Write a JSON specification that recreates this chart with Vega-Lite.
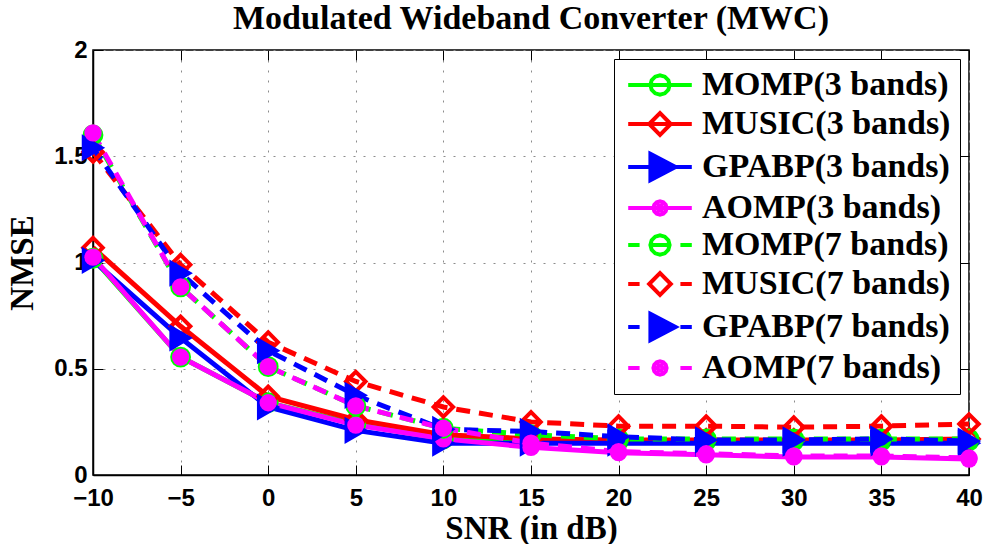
{
  "$schema": "https://vega.github.io/schema/vega-lite/v6.json",
  "width": 876,
  "height": 425,
  "autosize": {"type": "none"},
  "padding": {"left": 93, "top": 50, "right": 18, "bottom": 69},
  "background": "white",
  "title": {
    "text": "Modulated Wideband Converter (MWC)",
    "font": "Liberation Serif",
    "fontSize": 34,
    "fontWeight": "bold",
    "color": "black",
    "anchor": "middle",
    "offset": 2
  },
  "config": {
    "view": {"stroke": "black", "strokeWidth": 1.5},
    "axis": {
      "labelFont": "Liberation Sans",
      "labelFontWeight": "bold",
      "labelFontSize": 24,
      "labelColor": "black",
      "labelFlush": false,
      "tickColor": "black",
      "tickWidth": 1,
      "tickSize": -10,
      "domainColor": "black",
      "domainWidth": 1.5,
      "gridColor": "#8c8c8c",
      "gridDash": [2, 8],
      "gridWidth": 1,
      "titleFont": "Liberation Serif",
      "titleFontWeight": "bold",
      "titleFontSize": 33,
      "titleColor": "black"
    },
    "legend": {
      "symbolOpacity": 1
    }
  },
  "datasets": {
    "nmse": [
      {"snr": -10, "nmse": 1.02, "method": "MOMP", "band": 3, "series": "MOMP(3 bands)"},
      {"snr": -5, "nmse": 0.555, "method": "MOMP", "band": 3, "series": "MOMP(3 bands)"},
      {"snr": 0, "nmse": 0.34, "method": "MOMP", "band": 3, "series": "MOMP(3 bands)"},
      {"snr": 5, "nmse": 0.24, "method": "MOMP", "band": 3, "series": "MOMP(3 bands)"},
      {"snr": 10, "nmse": 0.17, "method": "MOMP", "band": 3, "series": "MOMP(3 bands)"},
      {"snr": 15, "nmse": 0.17, "method": "MOMP", "band": 3, "series": "MOMP(3 bands)"},
      {"snr": 20, "nmse": 0.16, "method": "MOMP", "band": 3, "series": "MOMP(3 bands)"},
      {"snr": 25, "nmse": 0.16, "method": "MOMP", "band": 3, "series": "MOMP(3 bands)"},
      {"snr": 30, "nmse": 0.16, "method": "MOMP", "band": 3, "series": "MOMP(3 bands)"},
      {"snr": 35, "nmse": 0.16, "method": "MOMP", "band": 3, "series": "MOMP(3 bands)"},
      {"snr": 40, "nmse": 0.16, "method": "MOMP", "band": 3, "series": "MOMP(3 bands)"},

      {"snr": -10, "nmse": 1.07, "method": "MUSIC", "band": 3, "series": "MUSIC(3 bands)"},
      {"snr": -5, "nmse": 0.70, "method": "MUSIC", "band": 3, "series": "MUSIC(3 bands)"},
      {"snr": 0, "nmse": 0.37, "method": "MUSIC", "band": 3, "series": "MUSIC(3 bands)"},
      {"snr": 5, "nmse": 0.26, "method": "MUSIC", "band": 3, "series": "MUSIC(3 bands)"},
      {"snr": 10, "nmse": 0.19, "method": "MUSIC", "band": 3, "series": "MUSIC(3 bands)"},
      {"snr": 15, "nmse": 0.17, "method": "MUSIC", "band": 3, "series": "MUSIC(3 bands)"},
      {"snr": 20, "nmse": 0.165, "method": "MUSIC", "band": 3, "series": "MUSIC(3 bands)"},
      {"snr": 25, "nmse": 0.165, "method": "MUSIC", "band": 3, "series": "MUSIC(3 bands)"},
      {"snr": 30, "nmse": 0.165, "method": "MUSIC", "band": 3, "series": "MUSIC(3 bands)"},
      {"snr": 35, "nmse": 0.165, "method": "MUSIC", "band": 3, "series": "MUSIC(3 bands)"},
      {"snr": 40, "nmse": 0.17, "method": "MUSIC", "band": 3, "series": "MUSIC(3 bands)"},

      {"snr": -10, "nmse": 1.01, "method": "GPABP", "band": 3, "series": "GPABP(3 bands)"},
      {"snr": -5, "nmse": 0.645, "method": "GPABP", "band": 3, "series": "GPABP(3 bands)"},
      {"snr": 0, "nmse": 0.32, "method": "GPABP", "band": 3, "series": "GPABP(3 bands)"},
      {"snr": 5, "nmse": 0.21, "method": "GPABP", "band": 3, "series": "GPABP(3 bands)"},
      {"snr": 10, "nmse": 0.15, "method": "GPABP", "band": 3, "series": "GPABP(3 bands)"},
      {"snr": 15, "nmse": 0.15, "method": "GPABP", "band": 3, "series": "GPABP(3 bands)"},
      {"snr": 20, "nmse": 0.15, "method": "GPABP", "band": 3, "series": "GPABP(3 bands)"},
      {"snr": 25, "nmse": 0.15, "method": "GPABP", "band": 3, "series": "GPABP(3 bands)"},
      {"snr": 30, "nmse": 0.15, "method": "GPABP", "band": 3, "series": "GPABP(3 bands)"},
      {"snr": 35, "nmse": 0.15, "method": "GPABP", "band": 3, "series": "GPABP(3 bands)"},
      {"snr": 40, "nmse": 0.15, "method": "GPABP", "band": 3, "series": "GPABP(3 bands)"},

      {"snr": -10, "nmse": 1.025, "method": "AOMP", "band": 3, "series": "AOMP(3 bands)"},
      {"snr": -5, "nmse": 0.555, "method": "AOMP", "band": 3, "series": "AOMP(3 bands)"},
      {"snr": 0, "nmse": 0.34, "method": "AOMP", "band": 3, "series": "AOMP(3 bands)"},
      {"snr": 5, "nmse": 0.235, "method": "AOMP", "band": 3, "series": "AOMP(3 bands)"},
      {"snr": 10, "nmse": 0.17, "method": "AOMP", "band": 3, "series": "AOMP(3 bands)"},
      {"snr": 15, "nmse": 0.13, "method": "AOMP", "band": 3, "series": "AOMP(3 bands)"},
      {"snr": 20, "nmse": 0.105, "method": "AOMP", "band": 3, "series": "AOMP(3 bands)"},
      {"snr": 25, "nmse": 0.095, "method": "AOMP", "band": 3, "series": "AOMP(3 bands)"},
      {"snr": 30, "nmse": 0.085, "method": "AOMP", "band": 3, "series": "AOMP(3 bands)"},
      {"snr": 35, "nmse": 0.085, "method": "AOMP", "band": 3, "series": "AOMP(3 bands)"},
      {"snr": 40, "nmse": 0.075, "method": "AOMP", "band": 3, "series": "AOMP(3 bands)"},

      {"snr": -10, "nmse": 1.60, "method": "MOMP", "band": 7, "series": "MOMP(7 bands)"},
      {"snr": -5, "nmse": 0.885, "method": "MOMP", "band": 7, "series": "MOMP(7 bands)"},
      {"snr": 0, "nmse": 0.51, "method": "MOMP", "band": 7, "series": "MOMP(7 bands)"},
      {"snr": 5, "nmse": 0.325, "method": "MOMP", "band": 7, "series": "MOMP(7 bands)"},
      {"snr": 10, "nmse": 0.22, "method": "MOMP", "band": 7, "series": "MOMP(7 bands)"},
      {"snr": 15, "nmse": 0.19, "method": "MOMP", "band": 7, "series": "MOMP(7 bands)"},
      {"snr": 20, "nmse": 0.17, "method": "MOMP", "band": 7, "series": "MOMP(7 bands)"},
      {"snr": 25, "nmse": 0.17, "method": "MOMP", "band": 7, "series": "MOMP(7 bands)"},
      {"snr": 30, "nmse": 0.17, "method": "MOMP", "band": 7, "series": "MOMP(7 bands)"},
      {"snr": 35, "nmse": 0.17, "method": "MOMP", "band": 7, "series": "MOMP(7 bands)"},
      {"snr": 40, "nmse": 0.17, "method": "MOMP", "band": 7, "series": "MOMP(7 bands)"},

      {"snr": -10, "nmse": 1.52, "method": "MUSIC", "band": 7, "series": "MUSIC(7 bands)"},
      {"snr": -5, "nmse": 0.99, "method": "MUSIC", "band": 7, "series": "MUSIC(7 bands)"},
      {"snr": 0, "nmse": 0.625, "method": "MUSIC", "band": 7, "series": "MUSIC(7 bands)"},
      {"snr": 5, "nmse": 0.44, "method": "MUSIC", "band": 7, "series": "MUSIC(7 bands)"},
      {"snr": 10, "nmse": 0.32, "method": "MUSIC", "band": 7, "series": "MUSIC(7 bands)"},
      {"snr": 15, "nmse": 0.25, "method": "MUSIC", "band": 7, "series": "MUSIC(7 bands)"},
      {"snr": 20, "nmse": 0.23, "method": "MUSIC", "band": 7, "series": "MUSIC(7 bands)"},
      {"snr": 25, "nmse": 0.23, "method": "MUSIC", "band": 7, "series": "MUSIC(7 bands)"},
      {"snr": 30, "nmse": 0.225, "method": "MUSIC", "band": 7, "series": "MUSIC(7 bands)"},
      {"snr": 35, "nmse": 0.23, "method": "MUSIC", "band": 7, "series": "MUSIC(7 bands)"},
      {"snr": 40, "nmse": 0.24, "method": "MUSIC", "band": 7, "series": "MUSIC(7 bands)"},

      {"snr": -10, "nmse": 1.54, "method": "GPABP", "band": 7, "series": "GPABP(7 bands)"},
      {"snr": -5, "nmse": 0.95, "method": "GPABP", "band": 7, "series": "GPABP(7 bands)"},
      {"snr": 0, "nmse": 0.585, "method": "GPABP", "band": 7, "series": "GPABP(7 bands)"},
      {"snr": 5, "nmse": 0.375, "method": "GPABP", "band": 7, "series": "GPABP(7 bands)"},
      {"snr": 10, "nmse": 0.215, "method": "GPABP", "band": 7, "series": "GPABP(7 bands)"},
      {"snr": 15, "nmse": 0.205, "method": "GPABP", "band": 7, "series": "GPABP(7 bands)"},
      {"snr": 20, "nmse": 0.18, "method": "GPABP", "band": 7, "series": "GPABP(7 bands)"},
      {"snr": 25, "nmse": 0.165, "method": "GPABP", "band": 7, "series": "GPABP(7 bands)"},
      {"snr": 30, "nmse": 0.165, "method": "GPABP", "band": 7, "series": "GPABP(7 bands)"},
      {"snr": 35, "nmse": 0.17, "method": "GPABP", "band": 7, "series": "GPABP(7 bands)"},
      {"snr": 40, "nmse": 0.16, "method": "GPABP", "band": 7, "series": "GPABP(7 bands)"},

      {"snr": -10, "nmse": 1.61, "method": "AOMP", "band": 7, "series": "AOMP(7 bands)"},
      {"snr": -5, "nmse": 0.885, "method": "AOMP", "band": 7, "series": "AOMP(7 bands)"},
      {"snr": 0, "nmse": 0.51, "method": "AOMP", "band": 7, "series": "AOMP(7 bands)"},
      {"snr": 5, "nmse": 0.325, "method": "AOMP", "band": 7, "series": "AOMP(7 bands)"},
      {"snr": 10, "nmse": 0.22, "method": "AOMP", "band": 7, "series": "AOMP(7 bands)"},
      {"snr": 15, "nmse": 0.15, "method": "AOMP", "band": 7, "series": "AOMP(7 bands)"},
      {"snr": 20, "nmse": 0.11, "method": "AOMP", "band": 7, "series": "AOMP(7 bands)"},
      {"snr": 25, "nmse": 0.10, "method": "AOMP", "band": 7, "series": "AOMP(7 bands)"},
      {"snr": 30, "nmse": 0.09, "method": "AOMP", "band": 7, "series": "AOMP(7 bands)"},
      {"snr": 35, "nmse": 0.09, "method": "AOMP", "band": 7, "series": "AOMP(7 bands)"},
      {"snr": 40, "nmse": 0.08, "method": "AOMP", "band": 7, "series": "AOMP(7 bands)"}
    ]
  },
  "data": {"name": "nmse"},
  "resolve": {"axis": {"x": "independent", "y": "independent"}},
  "layer": [
    {
      "mark": {"type": "point", "filled": false, "strokeWidth": 4, "opacity": 0},
      "encoding": {
        "x": {"field": "snr", "type": "quantitative", "axis": null},
        "y": {"field": "nmse", "type": "quantitative", "axis": null},
        "color": {
          "field": "series", "type": "nominal",
          "scale": {
            "domain": ["MOMP(3 bands)", "MUSIC(3 bands)", "GPABP(3 bands)", "AOMP(3 bands)", "MOMP(7 bands)", "MUSIC(7 bands)", "GPABP(7 bands)", "AOMP(7 bands)"],
            "range": ["#00ff00", "#ff0000", "#0000ff", "#ff00ff", "#00ff00", "#ff0000", "#0000ff", "#ff00ff"]
          },
          "legend": {
            "title": null,
            "orient": "top-right",
            "offset": 9,
            "padding": 9,
            "rowPadding": 2,
            "symbolSize": 576,
            "symbolStrokeWidth": 4,
            "symbolOpacity": 1,
            "symbolOffset": 20,
            "labelOffset": 25,
            "labelFont": "Liberation Serif",
            "labelFontSize": 34,
            "labelFontWeight": "bold",
            "labelColor": "black",
            "labelLimit": 400,
            "strokeColor": "black",
            "fillColor": "white",
            "cornerRadius": 0
          }
        },
        "shape": {
          "field": "series", "type": "nominal",
          "scale": {
            "domain": ["MOMP(3 bands)", "MUSIC(3 bands)", "GPABP(3 bands)", "AOMP(3 bands)", "MOMP(7 bands)", "MUSIC(7 bands)", "GPABP(7 bands)", "AOMP(7 bands)"],
            "range": [
              "M-2.65,0L2.65,0M0.8,0L0.693,0.4L0.4,0.693L0,0.8L-0.4,0.693L-0.693,0.4L-0.8,0L-0.693,-0.4L-0.4,-0.693L0,-0.8L0.4,-0.693L0.693,-0.4Z",
              "M-2.65,0L2.65,0M-0.9,0L0,-0.9L0.9,0L0,0.9Z",
              "M-2.65,0L2.65,0M-0.8,-1.1L1.3,0L-0.8,1.1ZM-0.574,-0.726L0.812,0L-0.574,0.726ZM-0.354,-0.363L0.339,0L-0.354,0.363ZM-0.25,0L0.05,0",
              "M-2.65,0L2.65,0M0.55,0L0.476,0.275L0.275,0.476L0,0.55L-0.275,0.476L-0.476,0.275L-0.55,0L-0.476,-0.275L-0.275,-0.476L0,-0.55L0.275,-0.476L0.476,-0.275ZM0.22,0L0.11,0.19L-0.11,0.19L-0.22,0L-0.11,-0.19L0.11,-0.19Z",
              "M-2.65,0L-1.7,0M1.7,0L2.65,0M-0.8,0L0.8,0M0.8,0L0.693,0.4L0.4,0.693L0,0.8L-0.4,0.693L-0.693,0.4L-0.8,0L-0.693,-0.4L-0.4,-0.693L0,-0.8L0.4,-0.693L0.693,-0.4Z",
              "M-2.65,0L-1.7,0M1.7,0L2.65,0M-0.9,0L0,-0.9L0.9,0L0,0.9Z",
              "M-2.65,0L-1.7,0M1.7,0L2.65,0M-0.8,-1.1L1.3,0L-0.8,1.1ZM-0.574,-0.726L0.812,0L-0.574,0.726ZM-0.354,-0.363L0.339,0L-0.354,0.363ZM-0.25,0L0.05,0",
              "M-2.65,0L-1.7,0M1.7,0L2.65,0M0.55,0L0.476,0.275L0.275,0.476L0,0.55L-0.275,0.476L-0.476,0.275L-0.55,0L-0.476,-0.275L-0.275,-0.476L0,-0.55L0.275,-0.476L0.476,-0.275ZM0.22,0L0.11,0.19L-0.11,0.19L-0.22,0L-0.11,-0.19L0.11,-0.19Z"
            ]
          },
          "legend": {
            "title": null,
            "orient": "top-right",
            "offset": 9,
            "padding": 9,
            "rowPadding": 2,
            "symbolSize": 576,
            "symbolStrokeWidth": 4,
            "symbolOpacity": 1,
            "symbolOffset": 20,
            "labelOffset": 25,
            "labelFont": "Liberation Serif",
            "labelFontSize": 34,
            "labelFontWeight": "bold",
            "labelColor": "black",
            "labelLimit": 400,
            "strokeColor": "black",
            "fillColor": "white",
            "cornerRadius": 0
          }
        }
      }
    },
    {
      "transform": [{"filter": "datum.band === 3"}],
      "mark": {"type": "line", "strokeWidth": 5},
      "encoding": {
        "x": {
          "field": "snr", "type": "quantitative",
          "scale": {"domain": [-10, 40], "nice": false, "zero": false},
          "axis": {"orient": "bottom", "values": [-10, -5, 0, 5, 10, 15, 20, 25, 30, 35, 40], "grid": true, "labelPadding": 21, "titlePadding": 2, "title": "SNR (in dB)"}
        },
        "y": {
          "field": "nmse", "type": "quantitative",
          "scale": {"domain": [0, 2], "nice": false},
          "axis": {"orient": "left", "values": [0, 0.5, 1, 1.5, 2], "format": "~g", "grid": true, "labelPadding": 16, "titlePadding": 14, "title": "NMSE"}
        },
        "color": {
          "field": "series", "type": "nominal",
          "scale": {
            "domain": ["MOMP(3 bands)", "MUSIC(3 bands)", "GPABP(3 bands)", "AOMP(3 bands)", "MOMP(7 bands)", "MUSIC(7 bands)", "GPABP(7 bands)", "AOMP(7 bands)"],
            "range": ["#00ff00", "#ff0000", "#0000ff", "#ff00ff", "#00ff00", "#ff0000", "#0000ff", "#ff00ff"]
          },
          "legend": null
        }
      }
    },
    {
      "transform": [{"filter": "datum.band === 3 && datum.method === 'MOMP'"}],
      "mark": {"type": "point", "shape": "circle", "filled": false, "color": "#00ff00", "size": 300, "strokeWidth": 3.5, "opacity": 1},
      "encoding": {
        "x": {"field": "snr", "type": "quantitative", "axis": null},
        "y": {"field": "nmse", "type": "quantitative", "axis": null}
      }
    },
    {
      "transform": [{"filter": "datum.band === 3 && datum.method === 'MUSIC'"}],
      "mark": {"type": "point", "shape": "diamond", "filled": false, "color": "#ff0000", "size": 380, "strokeWidth": 4, "opacity": 1},
      "encoding": {
        "x": {"field": "snr", "type": "quantitative", "axis": null},
        "y": {"field": "nmse", "type": "quantitative", "axis": null}
      }
    },
    {
      "transform": [{"filter": "datum.band === 3 && datum.method === 'GPABP'"}],
      "mark": {"type": "point", "shape": "triangle-right", "filled": true, "color": "#0000ff", "stroke": "#0000ff", "size": 560, "strokeWidth": 2, "opacity": 1},
      "encoding": {
        "x": {"field": "snr", "type": "quantitative", "axis": null},
        "y": {"field": "nmse", "type": "quantitative", "axis": null}
      }
    },
    {
      "transform": [{"filter": "datum.band === 3 && datum.method === 'AOMP'"}],
      "mark": {"type": "point", "shape": "circle", "filled": true, "color": "#ff00ff", "size": 300, "opacity": 1},
      "encoding": {
        "x": {"field": "snr", "type": "quantitative", "axis": null},
        "y": {"field": "nmse", "type": "quantitative", "axis": null}
      }
    },
    {
      "transform": [{"filter": "datum.band === 7"}],
      "mark": {"type": "line", "strokeWidth": 5, "strokeDash": [14, 9]},
      "encoding": {
        "x": {
          "field": "snr", "type": "quantitative",
          "axis": {"orient": "top", "values": [-10, -5, 0, 5, 10, 15, 20, 25, 30, 35, 40], "labels": false, "domain": false, "grid": false, "title": null}
        },
        "y": {
          "field": "nmse", "type": "quantitative",
          "axis": {"orient": "right", "values": [0, 0.5, 1, 1.5, 2], "labels": false, "domain": false, "grid": false, "title": null}
        },
        "color": {
          "field": "series", "type": "nominal",
          "scale": {
            "domain": ["MOMP(3 bands)", "MUSIC(3 bands)", "GPABP(3 bands)", "AOMP(3 bands)", "MOMP(7 bands)", "MUSIC(7 bands)", "GPABP(7 bands)", "AOMP(7 bands)"],
            "range": ["#00ff00", "#ff0000", "#0000ff", "#ff00ff", "#00ff00", "#ff0000", "#0000ff", "#ff00ff"]
          },
          "legend": null
        }
      }
    },
    {
      "transform": [{"filter": "datum.band === 7 && datum.method === 'MOMP'"}],
      "mark": {"type": "point", "shape": "circle", "filled": false, "color": "#00ff00", "size": 300, "strokeWidth": 3.5, "opacity": 1},
      "encoding": {
        "x": {"field": "snr", "type": "quantitative", "axis": null},
        "y": {"field": "nmse", "type": "quantitative", "axis": null}
      }
    },
    {
      "transform": [{"filter": "datum.band === 7 && datum.method === 'MUSIC'"}],
      "mark": {"type": "point", "shape": "diamond", "filled": false, "color": "#ff0000", "size": 380, "strokeWidth": 4, "opacity": 1},
      "encoding": {
        "x": {"field": "snr", "type": "quantitative", "axis": null},
        "y": {"field": "nmse", "type": "quantitative", "axis": null}
      }
    },
    {
      "transform": [{"filter": "datum.band === 7 && datum.method === 'GPABP'"}],
      "mark": {"type": "point", "shape": "triangle-right", "filled": true, "color": "#0000ff", "stroke": "#0000ff", "size": 560, "strokeWidth": 2, "opacity": 1},
      "encoding": {
        "x": {"field": "snr", "type": "quantitative", "axis": null},
        "y": {"field": "nmse", "type": "quantitative", "axis": null}
      }
    },
    {
      "transform": [{"filter": "datum.band === 7 && datum.method === 'AOMP'"}],
      "mark": {"type": "point", "shape": "circle", "filled": true, "color": "#ff00ff", "size": 300, "opacity": 1},
      "encoding": {
        "x": {"field": "snr", "type": "quantitative", "axis": null},
        "y": {"field": "nmse", "type": "quantitative", "axis": null}
      }
    }
  ]
}
